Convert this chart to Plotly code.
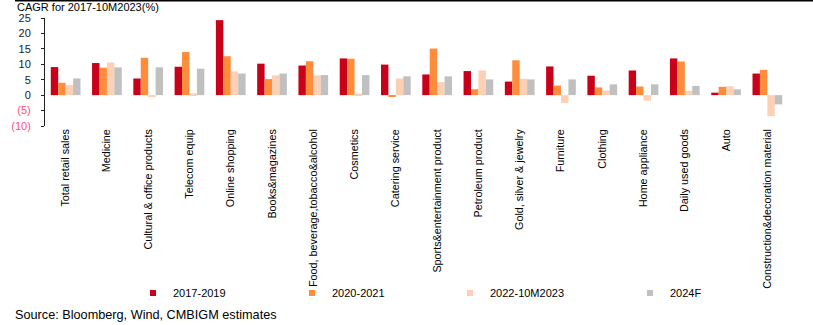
import plotly.graph_objects as go

# Category CAGR (%) by period
categories = [
    "Total retail sales", "Medicine", "Cultural & office products", "Telecom equip",
    "Online shopping", "Books&magazines", "Food, beverage,tobacco&alcohol", "Cosmetics",
    "Catering service", "Sports&entertainment product", "Petroleum product",
    "Gold, silver & jewelry", "Furniture", "Clothing", "Home appliance",
    "Daily used goods", "Auto", "Construction&decoration material",
]
cagr_2017_2019 = [9.1, 10.4, 5.4, 9.2, 24.3, 10.2, 9.6, 11.9, 9.9, 6.7, 7.8, 4.4, 9.3, 6.3, 8.0, 11.9, 0.8, 7.0]
cagr_2020_2021 = [4.0, 8.9, 12.1, 14.0, 12.6, 5.2, 11.0, 11.8, -0.6, 15.1, 1.9, 11.3, 3.1, 2.5, 2.8, 10.9, 2.7, 8.2]
cagr_2022_10m2023 = [3.3, 10.6, -0.5, 0.6, 7.7, 6.4, 6.4, 0.5, 5.4, 4.2, 8.0, 5.3, -2.5, 1.5, -1.8, 1.4, 2.9, -6.8]
cagr_2024f = [5.4, 9.0, 9.0, 8.6, 7.0, 7.0, 6.5, 6.5, 6.1, 6.1, 5.1, 5.1, 5.1, 3.5, 3.5, 3.0, 1.9, -3.0]

series_names = ["2017-2019", "2020-2021", "2022-10M2023", "2024F"]
series_values = [cagr_2017_2019, cagr_2020_2021, cagr_2022_10m2023, cagr_2024f]
series_colors = ["#C8001A", "#FF8C3A", "#FCD0B4", "#C0C0C0"]

y_tick_vals = [-10, -5, 0, 5, 10, 15, 20, 25]
y_tick_text = ["(10)", "(5)", "0", "5", "10", "15", "20", "25"]

FONT = "Liberation Sans, Arial, sans-serif"
W, H = 813, 325
ML, MR, MT, MB = 45, 25, 18, 199
PW, PH = W - ML - MR, H - MT - MB
Y_MIN, Y_MAX = -10, 25


def px_x(px):
    return (px - ML) / PW


def px_y(py):
    return (H - MB - py) / PH


fig = go.Figure()

for name, vals, color in zip(series_names, series_values, series_colors):
    fig.add_trace(go.Bar(
        x=categories, y=vals, name=name,
        marker=dict(color=color, line=dict(width=0)),
        showlegend=False,
    ))

# small square legend keys, one legend box per series
legend_keys_px = [153, 312, 470, 650]
for i, (name, color) in enumerate(zip(series_names, series_colors)):
    fig.add_trace(go.Scatter(
        x=[None], y=[None], mode="markers", name=name,
        marker=dict(symbol="square", size=6, color=color),
        legend="legend" if i == 0 else f"legend{i + 1}",
    ))

legend_common = dict(
    orientation="h", yanchor="middle", xanchor="left",
    y=px_y(293), font=dict(family=FONT, size=11, color="#000000"),
    bgcolor="rgba(0,0,0,0)", borderwidth=0, itemwidth=30,
)
legend_layout = {}
for i, kx in enumerate(legend_keys_px):
    key = "legend" if i == 0 else f"legend{i + 1}"
    legend_layout[key] = dict(legend_common, x=px_x(kx - 20))

neg_color = "#FF4F73"
tick_text_colored = [
    f"<span style='color:{neg_color}'>{t}</span>" if v < 0 else t
    for v, t in zip(y_tick_vals, y_tick_text)
]

fig.update_layout(
    width=W, height=H,
    margin=dict(l=ML, r=MR, t=MT, b=MB, autoexpand=False),
    paper_bgcolor="white", plot_bgcolor="white",
    barmode="group", bargap=0.28, bargroupgap=0,
    font=dict(family=FONT, size=11, color="#000000"),
    title=dict(
        text="CAGR for 2017-10M2023(%)", xref="container", yref="container",
        x=17 / W, xanchor="left", y=1 - 7 / H, yanchor="middle",
        font=dict(family=FONT, size=11, color="#000000"),
    ),
    xaxis=dict(
        type="category", categoryorder="array", categoryarray=categories,
        range=[-0.5, len(categories) - 0.5],
        showline=False, ticks="", showgrid=False, zeroline=False,
        tickangle=-90, tickfont=dict(family=FONT, size=10.8, color="#000000"),
        automargin=False,
    ),
    # axis line drawn through zero with ticks at the category boundaries
    xaxis2=dict(
        overlaying="x", anchor="free", position=(0 - Y_MIN) / (Y_MAX - Y_MIN),
        range=[-0.5, len(categories) - 0.5],
        tickmode="array", tickvals=[i + 0.5 for i in range(len(categories))],
        showticklabels=False, ticks="outside", ticklen=3, tickwidth=1,
        tickcolor="#404040", showline=True, linecolor="#606060", linewidth=1.5,
        showgrid=False, zeroline=False,
    ),
    yaxis=dict(
        range=[Y_MIN, Y_MAX], tickmode="array", tickvals=y_tick_vals,
        ticktext=tick_text_colored, showline=True, linecolor="#202020", linewidth=1,
        ticks="outside", ticklen=3, tickcolor="#202020",
        showgrid=False, zeroline=False,
        tickfont=dict(family=FONT, size=11, color="#1A1A1A"),
        ticklabelstandoff=8, automargin=False,
    ),
    shapes=[dict(
        type="line", xref="paper", yref="paper",
        x0=px_x(15), x1=px_x(W), y0=px_y(0.75), y1=px_y(0.75),
        line=dict(color="#000000", width=1.5),
    )],
    annotations=[dict(
        text="Source: Bloomberg, Wind, CMBIGM estimates",
        xref="paper", yref="paper", x=px_x(13), y=px_y(315),
        xanchor="left", yanchor="middle", showarrow=False,
        font=dict(family=FONT, size=12.7, color="#000000"),
    )],
    **legend_layout,
)

fig.write_html("out.html")
